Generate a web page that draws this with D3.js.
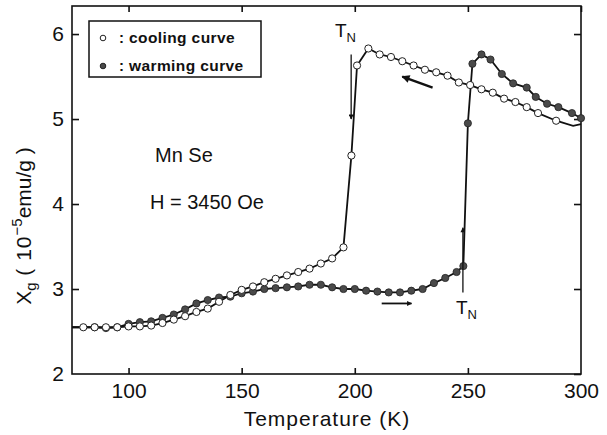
<!DOCTYPE html>
<html><head><meta charset="utf-8">
<script src="https://cdn.jsdelivr.net/npm/d3@7"></script>
<style>body{margin:0;background:#fff}svg{display:block}text{font-family:"Liberation Sans",Arial,sans-serif;fill:#111}</style>
</head><body>
<svg id="c" width="607" height="435"></svg>
<script>
// Cooling curve (open circles)
const coolT = [80,85,90,95,100,105,110,115,120,125,130,135,140,145,150,155,160,165,170,175,180,185,190,195,198.5,201,206,211,216,221,226,231,236,241,246,251,256,261,266,271,276,281,289];
const coolV = [2.55,2.55,2.55,2.55,2.56,2.56,2.57,2.60,2.64,2.68,2.73,2.77,2.85,2.93,2.99,3.03,3.08,3.12,3.16,3.20,3.24,3.30,3.36,3.49,4.57,5.63,5.83,5.76,5.73,5.68,5.63,5.58,5.55,5.51,5.43,5.40,5.35,5.31,5.24,5.20,5.14,5.07,4.98];
// line-only end points of the cooling trace
const coolLineHighT = [296.5,300];
const coolLineHighV = [4.92,4.94];
const coolLineLowT = [75];
const coolLineLowV = [2.55];
// Warming curve (filled circles)
const warmT = [85,90,95,100,105,110,115,120,125,130,135,140,145,150,155,160,165,170,175,180,185,190,195,200,205,210,215,220,225,230,235,240,245,248,250,252,256,260,265,270,276,280,285,290,296,300];
const warmV = [2.55,2.54,2.55,2.59,2.61,2.62,2.66,2.70,2.76,2.83,2.87,2.90,2.91,2.95,2.97,3.00,3.01,3.02,3.03,3.05,3.05,3.02,3.00,3.00,2.98,2.97,2.96,2.96,2.98,3.00,3.07,3.13,3.20,3.27,4.95,5.65,5.76,5.70,5.53,5.42,5.37,5.26,5.18,5.14,5.07,5.01];
const warmLineLowT = [75];
const warmLineLowV = [2.55];
const xTicks = [100,150,200,250,300];
const yTicks = [2,3,4,5,6];
const legendLabels = ["cooling curve","warming curve"];

const svg = d3.select("#c");
const x = d3.scaleLinear().domain([75,300]).range([72,581]);
const y = d3.scaleLinear().domain([2,6.33]).range([374,6]);

// frame
svg.append("rect").attr("x",72).attr("y",6).attr("width",509).attr("height",368)
  .attr("fill","none").attr("stroke","#111").attr("stroke-width",1.6);

// axes with inward ticks
const xb = svg.append("g").attr("transform","translate(0,374)")
  .call(d3.axisBottom(x).tickValues(xTicks).tickSizeInner(-6).tickSizeOuter(0).tickPadding(9).tickFormat(d3.format("d")));
const xt = svg.append("g").attr("transform","translate(0,6)")
  .call(d3.axisTop(x).tickValues(xTicks).tickSizeInner(-6).tickSizeOuter(0).tickFormat(""));
const yl = svg.append("g").attr("transform","translate(72,0)")
  .call(d3.axisLeft(y).tickValues(yTicks).tickSizeInner(-7).tickSizeOuter(0).tickPadding(8).tickFormat(d3.format("d")));
const yr = svg.append("g").attr("transform","translate(581,0)")
  .call(d3.axisRight(y).tickValues(yTicks).tickSizeInner(-7).tickSizeOuter(0).tickFormat(""));
[xb,xt,yl,yr].forEach(g=>{
  g.select(".domain").remove();
  g.selectAll(".tick line").attr("stroke","#111").attr("stroke-width",1.6);
  g.selectAll(".tick text").attr("font-size",21).attr("fill","#111").style("font-family","'Liberation Sans',Arial,sans-serif");
});
xb.selectAll(".tick").filter(d=>d===300).select("line").remove();
yl.selectAll(".tick").filter(d=>d===2).select("line").remove();

// axis titles
svg.append("text").attr("x",327).attr("y",426).attr("text-anchor","middle")
  .attr("font-size",21).attr("letter-spacing",1).text("Temperature  (K)");
const yt = svg.append("text").attr("transform","translate(31,226) rotate(-90)")
  .attr("text-anchor","middle").attr("font-size",21);
yt.append("tspan").text("X");
yt.append("tspan").attr("font-size",15).attr("dy",5).text("g");
yt.append("tspan").attr("dy",-5).attr("letter-spacing",1).text("  ( 10");
yt.append("tspan").attr("font-size",15).attr("dy",-9).text("−5");
yt.append("tspan").attr("dy",9).text("emu/g )");

// lines
const line = d3.line().x(d=>x(d[0])).y(d=>y(d[1]));
const coolPts = coolLineLowT.map((t,i)=>[t,coolLineLowV[i]])
  .concat(coolT.map((t,i)=>[t,coolV[i]]))
  .concat(coolLineHighT.map((t,i)=>[t,coolLineHighV[i]]));
const warmPts = warmLineLowT.map((t,i)=>[t,warmLineLowV[i]])
  .concat(warmT.map((t,i)=>[t,warmV[i]]));
svg.append("path").attr("d",line(warmPts)).attr("fill","none").attr("stroke","#111").attr("stroke-width",1.8);
svg.append("path").attr("d",line(coolPts)).attr("fill","none").attr("stroke","#111").attr("stroke-width",1.8);

// markers
svg.append("g").selectAll("circle").data(warmT.map((t,i)=>[t,warmV[i]])).join("circle")
  .attr("cx",d=>x(d[0])).attr("cy",d=>y(d[1])).attr("r",3.6)
  .attr("fill","#4a4a4a").attr("stroke","#222").attr("stroke-width",0.8);
svg.append("g").selectAll("circle").data(coolT.map((t,i)=>[t,coolV[i]])).join("circle")
  .attr("cx",d=>x(d[0])).attr("cy",d=>y(d[1])).attr("r",3.6)
  .attr("fill","#fff").attr("stroke","#222").attr("stroke-width",1);

// arrows
const defs = svg.append("defs");
[["ah",8,5],["ahBig",11,8]].forEach(([id,w,h])=>{
  defs.append("marker").attr("id",id).attr("viewBox","0 0 10 10").attr("refX",9).attr("refY",5)
    .attr("markerWidth",w).attr("markerHeight",h).attr("orient","auto").attr("markerUnits","userSpaceOnUse")
    .append("path").attr("d","M0,0 L10,5 L0,10 Z").attr("fill","#111");
});
function arrow(t1,v1,t2,v2,w,m){
  svg.append("line").attr("x1",x(t1)).attr("y1",y(v1)).attr("x2",x(t2)).attr("y2",y(v2))
    .attr("stroke","#111").attr("stroke-width",w).attr("marker-end",`url(#${m})`);
}
arrow(198.4,5.76,198.4,5.0,1.3,"ah");      // cooling drop at T_N
arrow(234.4,5.37,221.0,5.50,2.4,"ahBig");  // cooling direction
arrow(211.9,2.83,225.1,2.83,1.8,"ah");     // warming direction
arrow(247.8,2.96,247.8,3.72,1.3,"ah");     // warming rise at T_N

// T_N labels
function tn(px,py){
  const t = svg.append("text").attr("x",px).attr("y",py).attr("font-size",19);
  t.append("tspan").text("T");
  t.append("tspan").attr("font-size",13).attr("dy",5).text("N");
}
tn(335,37);
tn(456,314);

// annotations
svg.append("text").attr("x",155).attr("y",162).attr("font-size",20).text("Mn Se");
svg.append("text").attr("x",150).attr("y",209).attr("font-size",20).text("H = 3450 Oe");

// legend
const lg = svg.append("g");
lg.append("rect").attr("x",89).attr("y",21).attr("width",172).attr("height",56)
  .attr("fill","#fff").attr("stroke","#111").attr("stroke-width",1.5);
const rowsY = [38,66];
legendLabels.forEach((lab,i)=>{
  lg.append("circle").attr("cx",103).attr("cy",rowsY[i]).attr("r",2.8)
    .attr("fill",i===0?"#fff":"#4a4a4a").attr("stroke","#222").attr("stroke-width",1);
  lg.append("text").attr("x",119).attr("y",rowsY[i]+5).attr("font-size",15).attr("font-weight","bold").text(":");
  lg.append("text").attr("x",129).attr("y",rowsY[i]+5).attr("font-size",15.5).attr("font-weight","bold")
    .attr("letter-spacing",0.4).text(lab);
});
</script>
</body></html>
